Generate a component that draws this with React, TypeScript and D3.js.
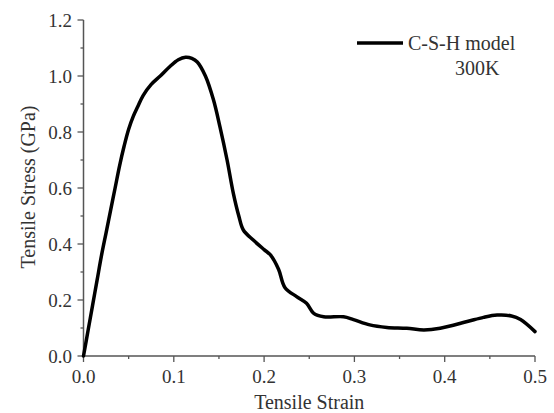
import React from "react";
import * as d3 from "d3";

const strain = [0, 0.005, 0.01, 0.015, 0.02, 0.025, 0.03, 0.035, 0.04, 0.045, 0.05, 0.055, 0.06, 0.066, 0.075, 0.085, 0.096, 0.105, 0.113, 0.12, 0.126, 0.135, 0.144, 0.151, 0.159, 0.166, 0.172, 0.177, 0.188, 0.2, 0.207, 0.216, 0.223, 0.236, 0.247, 0.255, 0.266, 0.288, 0.299, 0.317, 0.336, 0.358, 0.377, 0.395, 0.425, 0.443, 0.458, 0.474, 0.484, 0.5];
const stress = [0, 0.09, 0.18, 0.27, 0.36, 0.44, 0.52, 0.6, 0.68, 0.75, 0.81, 0.855, 0.89, 0.93, 0.97, 1.0, 1.035, 1.058, 1.067, 1.063, 1.05, 1.0, 0.914, 0.82, 0.7, 0.58, 0.5, 0.45, 0.414, 0.38, 0.361, 0.31, 0.245, 0.212, 0.188, 0.152, 0.14, 0.14, 0.13, 0.111, 0.102, 0.099, 0.093, 0.099, 0.123, 0.138, 0.146, 0.143, 0.13, 0.087];

const xTicks = [0, 0.1, 0.2, 0.3, 0.4, 0.5];
const xMinor = [0.05, 0.15, 0.25, 0.35, 0.45];
const yTicks = [0, 0.2, 0.4, 0.6, 0.8, 1.0, 1.2];
const yMinor = [0.1, 0.3, 0.5, 0.7, 0.9, 1.1];
const legendLabel = "C-S-H model";
const legendSub = "300K";

export default function App() {
  const W = 554, H = 413;
  const x = d3.scaleLinear().domain([0, 0.5]).range([83.5, 535]);
  const y = d3.scaleLinear().domain([0, 1.2]).range([356, 20]);
  const pts = strain.map((s, i) => [s, stress[i]] as [number, number]);
  const line = d3.line<[number, number]>().x(d => x(d[0])).y(d => y(d[1])).curve(d3.curveCatmullRom.alpha(0.5));
  const ts: React.CSSProperties = { fontFamily: "Liberation Serif, DejaVu Serif, serif" };
  const axisColor = "#555";
  return (
    <svg width={W} height={H} style={{ position: "absolute", left: 0, top: 0, background: "#fff" }}>
      <g fill="#333">
        <line x1={x(0)} x2={x(0.5)} y1={y(0)} y2={y(0)} stroke={axisColor} strokeWidth={1.5} />
        <line x1={x(0)} x2={x(0)} y1={y(0)} y2={y(1.2)} stroke={axisColor} strokeWidth={1.5} />
        {xTicks.map(t => (
          <g key={"xt" + t}>
            <line x1={x(t)} x2={x(t)} y1={y(0)} y2={y(0) + 6} stroke={axisColor} strokeWidth={1.3} />
            <text style={ts} x={x(t)} y={383} textAnchor="middle" fontSize={19}>{t.toFixed(1)}</text>
          </g>
        ))}
        {xMinor.map(t => (
          <line key={"xm" + t} x1={x(t)} x2={x(t)} y1={y(0)} y2={y(0) + 3} stroke={axisColor} strokeWidth={1.3} />
        ))}
        {yTicks.map(t => (
          <g key={"yt" + t}>
            <line x1={x(0) - 6} x2={x(0)} y1={y(t)} y2={y(t)} stroke={axisColor} strokeWidth={1.3} />
            <text style={ts} x={72} y={y(t)} dy="0.35em" textAnchor="end" fontSize={19}>{t.toFixed(1)}</text>
          </g>
        ))}
        {yMinor.map(t => (
          <line key={"ym" + t} x1={x(0) - 3} x2={x(0)} y1={y(t)} y2={y(t)} stroke={axisColor} strokeWidth={1.3} />
        ))}
        <text style={ts} x={(x(0) + x(0.5)) / 2} y={409} textAnchor="middle" fontSize={20}>Tensile Strain</text>
        <text style={ts} transform={`translate(35, 187) rotate(-90)`} textAnchor="middle" fontSize={20}>Tensile Stress (GPa)</text>
        <path d={line(pts) || ""} fill="none" stroke="#000" strokeWidth={3.5} strokeLinejoin="round" strokeLinecap="round" />
        <line x1={357} x2={403} y1={43} y2={43} stroke="#000" strokeWidth={3.5} />
        <text style={ts} x={408} y={50} fontSize={20}>{legendLabel}</text>
        <text style={ts} x={455} y={75} fontSize={20}>{legendSub}</text>
      </g>
    </svg>
  );
}
